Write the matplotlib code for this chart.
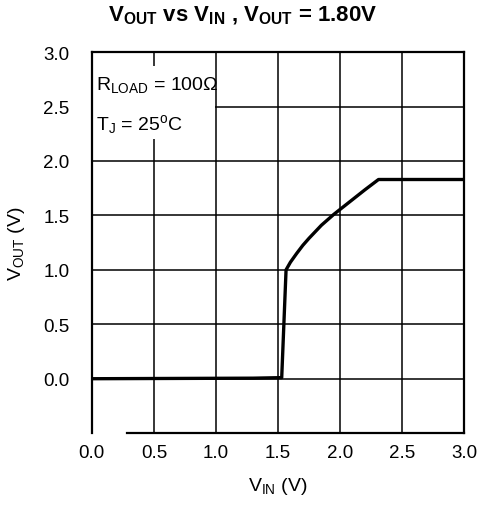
import matplotlib
matplotlib.use('Agg')
import matplotlib.pyplot as plt
from matplotlib.patches import Rectangle

plt.rcParams['font.family'] = ['Liberation Sans', 'DejaVu Sans']
plt.rcParams['mathtext.fontset'] = 'custom'
plt.rcParams['mathtext.rm'] = 'Liberation Sans'
plt.rcParams['mathtext.it'] = 'Liberation Sans'
plt.rcParams['mathtext.bf'] = 'Liberation Sans:bold'

# curve
vin = [0.0, 1.30, 1.53, 1.565, 1.60, 1.65, 1.70, 1.75, 1.80, 1.85, 1.90, 1.95,
       2.00, 2.10, 2.20, 2.31, 3.0]
vout = [0.0, 0.005, 0.01, 1.0, 1.07, 1.15, 1.225, 1.29, 1.35, 1.41, 1.46, 1.51,
        1.555, 1.645, 1.735, 1.83, 1.83]

xticks = [0.0, 0.5, 1.0, 1.5, 2.0, 2.5, 3.0]
yticks = [0.0, 0.5, 1.0, 1.5, 2.0, 2.5, 3.0]

fig = plt.figure(figsize=(4.86, 5.06), dpi=100)
ax = fig.add_axes([0.189, 0.142, 0.766, 0.753])

ax.plot(vin, vout, color='black', lw=2.4, solid_joinstyle='round', zorder=3)

ax.set_xlim(0, 3.0)
ax.set_ylim(-0.5, 3.0)
ax.set_xticks(xticks)
ax.set_yticks(yticks)
ax.set_xticklabels(['%.1f' % t for t in xticks])
ax.set_yticklabels(['%.1f' % t for t in yticks])
ax.tick_params(length=0, labelsize=13.5)
ax.tick_params(axis='x', pad=8)
ax.tick_params(axis='y', pad=16)
ax.grid(True, color='black', lw=1.1)
for s in ax.spines.values():
    s.set_linewidth(1.6)
# the bottom edge in the reference starts a bit right of 0
ax.spines['bottom'].set_visible(False)
ax.plot([0.28, 3.0], [-0.5, -0.5], color='black', lw=1.6, clip_on=False, zorder=4)

# white patch behind the condition notes
ax.add_patch(Rectangle((0, 2.20), 0.99, 0.67, facecolor='white', edgecolor='none', zorder=2))
ax.text(0.03, 2.71, r'R$_{\mathrm{LOAD}}$ = 100Ω', fontsize=14, va='center', zorder=5)
ax.text(0.03, 2.34, r'T$_{\mathrm{J}}$ = 25$^{\mathrm{o}}$C', fontsize=14, va='center', zorder=5)

ax.set_xlabel(r'V$_{\mathrm{IN}}$ (V)', fontsize=14, labelpad=10)
ax.set_ylabel(r'V$_{\mathrm{OUT}}$ (V)', fontsize=14, labelpad=12)
fig.suptitle(r'$\mathbf{V_{OUT}}$ vs $\mathbf{V_{IN}}$ , $\mathbf{V_{OUT}}$ = 1.80V',
             fontsize=16, fontweight='bold', x=0.5, y=0.99)

fig.savefig('out.png', dpi=100)
